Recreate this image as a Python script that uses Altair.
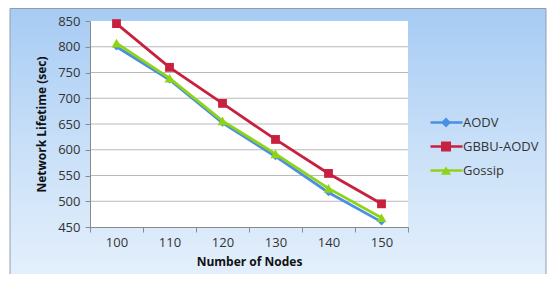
import altair as alt
import pandas as pd

# ---- data ----
nodes = [100, 110, 120, 130, 140, 150]
aodv = [800, 736, 652, 587, 517, 460]
gbbu = [845, 760, 690, 620, 554, 495]
gossip = [807, 739, 656, 592, 525, 468]
series = ["AODV", "GBBU-AODV", "Gossip"]
y_ticks = [450, 500, 550, 600, 650, 700, 750, 800, 850]
grid_vals = [500, 550, 600, 650, 700, 750, 800]

# ---- styling ----
colors = ["#4a8fe3", "#c8203f", "#8fd317"]
shapes = ["diamond", "square", "triangle-up"]
sizes = [55, 100, 120]
FONT = "Open Sans"
W, H = 318, 206

keys = ["m_" + s for s in series]  # separate key for marker legend
rows = []
for name, key, vals in zip(series, keys, [aodv, gbbu, gossip]):
    for n, v in zip(nodes, vals):
        rows.append({"Nodes": n, "Series": name, "Key": key, "Lifetime": v})
df = pd.DataFrame(rows)

yscale = alt.Scale(domain=[450, 850], nice=False, zero=False)

x_enc = alt.X(
    "Nodes:O",
    scale=alt.Scale(type="band", paddingInner=0, paddingOuter=0),
    axis=alt.Axis(
        title="Number of Nodes", labelAngle=0, tickBand="extent", grid=False,
        labelFont=FONT, labelFontSize=13, labelColor="#333333", labelPadding=4,
        titleFont=FONT, titleFontSize=12, titleFontWeight="bold", titleColor="#111111",
        titlePadding=7, tickSize=5, tickColor="#8a8a8a", domainColor="#8a8a8a", zindex=1,
    ),
)
y_axis = alt.Axis(
    title="Network Lifetime (sec)", values=y_ticks, grid=False,
    labelFont=FONT, labelFontSize=13, labelColor="#333333", labelPadding=5,
    titleFont=FONT, titleFontSize=12, titleFontWeight="bold", titleColor="#111111",
    titlePadding=9, tickSize=5, tickColor="#8a8a8a", domainColor="#8a8a8a", zindex=1,
)
y_enc = alt.Y("Lifetime:Q", scale=yscale, axis=y_axis)

one = alt.Data(values=[{"k": 1}])

background = alt.Chart(one).mark_rect(
    fill={
        "gradient": "linear", "x1": 0, "y1": 0, "x2": 0, "y2": 1,
        "stops": [
            {"offset": 0, "color": "#a7cbf4"},
            {"offset": 0.5, "color": "#c9e0f8"},
            {"offset": 1, "color": "#e6f1fc"},
        ],
    },
    stroke="#8f9fb3", strokeWidth=1,
).encode(x=alt.value(-80), x2=alt.value(456), y=alt.value(-12.5), y2=alt.value(H + 60))

plot_bg = alt.Chart(one).mark_rect(fill="white").encode(
    x=alt.value(0), x2=alt.value(W), y=alt.value(0), y2=alt.value(H)
)

grid = alt.Chart(pd.DataFrame({"g": grid_vals})).mark_rule(
    color="#b9b9b9", strokeWidth=1
).encode(y=alt.Y("g:Q", scale=yscale, axis=y_axis), x=alt.value(0), x2=alt.value(W))

line_legend = alt.Legend(
    title=None, orient="none", legendX=350, legendY=95, padding=0,
    labelFont=FONT, labelFontSize=13, labelColor="#333333", labelOffset=10,
    rowPadding=10, symbolSize=100, symbolType="M-3.2,0H3.2",
    symbolStrokeWidth=2.6, zindex=1,
)
point_legend = alt.Legend(
    title=None, orient="none", legendX=349.5, legendY=95, padding=0,
    labelFont=FONT, labelFontSize=13, labelExpr="''", labelOffset=10,
    rowPadding=10, symbolStrokeWidth=0, symbolOpacity=1, zindex=2,
)

lines = alt.Chart(df).mark_line(strokeWidth=2.8).encode(
    x=x_enc, y=y_enc,
    color=alt.Color("Series:N", scale=alt.Scale(domain=series, range=colors), legend=line_legend),
)

points = alt.Chart(df).mark_point(filled=True, opacity=1).encode(
    x=x_enc, y=y_enc,
    color=alt.Color("Key:N", scale=alt.Scale(domain=keys, range=colors), legend=point_legend),
    shape=alt.Shape("Key:N", scale=alt.Scale(domain=keys, range=shapes), legend=point_legend),
    size=alt.Size("Key:N", scale=alt.Scale(domain=keys, range=sizes), legend=None),
)

chart = alt.layer(background, plot_bg, grid, lines, points).resolve_scale(
    color="independent"
).resolve_legend(
    color="independent", shape="independent"
).properties(
    width=W, height=H,
    padding={"left": 82, "top": 13, "right": 139, "bottom": 47},
    autosize=alt.AutoSizeParams(type="none"),
).configure_view(stroke=None)

chart.save("out.html", embed_options={"renderer": "svg", "actions": False})
